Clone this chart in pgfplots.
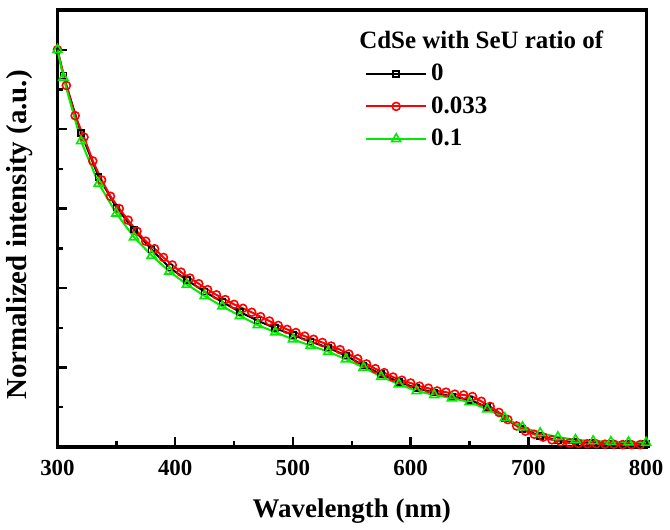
\documentclass[border=0pt]{standalone}
\usepackage{pgfplots}
\pgfplotsset{compat=1.18}
\usepackage{fontspec}
\setmainfont{Liberation Serif}
\definecolor{lgreen}{RGB}{0,235,0}
\begin{document}
\begin{tikzpicture}
\begin{axis}[
  name=ax,
  scale only axis,
  width=295pt, height=219pt,
  xmin=300, xmax=800,
  ymin=0, ymax=1.1,
  axis lines=box,
  xtick={300,400,500,600,700,800},
  minor x tick num=1,
  ytick={0,0.2,0.4,0.6,0.8,1.0},
  minor y tick num=1,
  yticklabels={},
  xtick pos=left, ytick pos=left,
  tick align=inside,
  major tick length=5pt, minor tick length=3pt,
  every tick/.style={line width=1.2pt, black},
  axis line style={line width=1.6pt, black},
  /pgf/number format/assume math mode=true,
  tick label style={font=\bfseries\fontsize{11.5}{13}\selectfont},
  xticklabel style={yshift=-3pt},
  xlabel={Wavelength (nm)},
  ylabel={Normalized intensity (a.u.)},
  xlabel style={font=\bfseries\fontsize{13.5}{15}\selectfont, at={(axis description cs:0.5,-0.146)}, anchor=center},
  ylabel style={font=\bfseries\fontsize{14.5}{16}\selectfont, at={(axis description cs:-0.064,0.485)}, anchor=center},
  legend style={at={(axis cs:556,0.985)}, anchor=north west, draw=none, fill=none,
    font=\bfseries\fontsize{12.5}{14}\selectfont, row sep=2.5pt},
  legend cell align=left,
  legend image code/.code={\draw[mark repeat=2,mark phase=2,#1] plot coordinates {(0pt,0pt)(15pt,0pt)(30pt,0pt)};},
]
\addplot[black, line width=1pt, mark=square, mark size=1.5pt, mark options={line width=0.8pt}]
coordinates {(300,1.0)(305,0.935)(320,0.790)(335,0.680)(350,0.603)(365,0.547)(380,0.497)(395,0.452)(410,0.420)(425,0.391)(440,0.365)(455,0.340)(470,0.318)(485,0.299)(500,0.282)(515,0.265)(530,0.250)(545,0.230)(560,0.205)(575,0.183)(590,0.164)(605,0.148)(620,0.137)(635,0.127)(650,0.119)(665,0.100)(680,0.072)(695,0.045)(710,0.028)(725,0.016)(740,0.012)(755,0.010)(770,0.009)(785,0.008)(800,0.008)};
\addlegendentry{0}
\addplot[red, line width=1pt, mark=o, mark size=2pt, mark options={line width=0.8pt}]
coordinates {(300,1.000)(307.5,0.910)(315,0.834)(322.5,0.780)(330,0.720)(337.5,0.672)(345,0.631)(352.5,0.600)(360,0.571)(367.5,0.543)(375,0.518)(382.5,0.499)(390,0.477)(397.5,0.458)(405,0.440)(412.5,0.425)(420,0.411)(427.5,0.396)(435,0.383)(442.5,0.371)(450,0.359)(457.5,0.349)(465,0.339)(472.5,0.328)(480,0.317)(487.5,0.306)(495,0.296)(502.5,0.288)(510,0.279)(517.5,0.271)(525,0.263)(532.5,0.254)(540,0.245)(547.5,0.234)(555,0.222)(562.5,0.209)(570,0.197)(577.5,0.187)(585,0.176)(592.5,0.168)(600,0.161)(607.5,0.153)(615,0.148)(622.5,0.141)(630,0.138)(637.5,0.133)(645,0.131)(652.5,0.127)(660,0.115)(667.5,0.102)(675,0.087)(682.5,0.069)(690,0.053)(697.5,0.040)(705,0.032)(712.5,0.025)(720,0.018)(727.5,0.013)(735,0.010)(742.5,0.009)(750,0.008)(757.5,0.008)(765,0.007)(772.5,0.007)(780,0.006)(787.5,0.006)(795,0.006)};
\addlegendentry{0.033}
\addplot[lgreen, line width=1pt, mark=triangle, mark size=2.6pt, mark options={line width=0.8pt}]
coordinates {(300,1.0)(305,0.930)(320,0.770)(335,0.663)(350,0.588)(365,0.528)(380,0.482)(395,0.442)(410,0.409)(425,0.380)(440,0.354)(455,0.330)(470,0.307)(485,0.289)(500,0.271)(515,0.255)(530,0.240)(545,0.221)(560,0.200)(575,0.177)(590,0.158)(605,0.141)(620,0.131)(635,0.123)(650,0.113)(665,0.095)(680,0.073)(695,0.050)(710,0.035)(725,0.025)(740,0.018)(755,0.015)(770,0.013)(785,0.012)(800,0.011)};
\addlegendentry{0.1}
\node[anchor=west, font=\bfseries\fontsize{12.5}{14}\selectfont, inner sep=0pt] at (axis cs:556,1.025) {CdSe with SeU ratio of};
\end{axis}
\path ([yshift=5pt]ax.north east) ([xshift=10pt]ax.south east);
\end{tikzpicture}
\end{document}
